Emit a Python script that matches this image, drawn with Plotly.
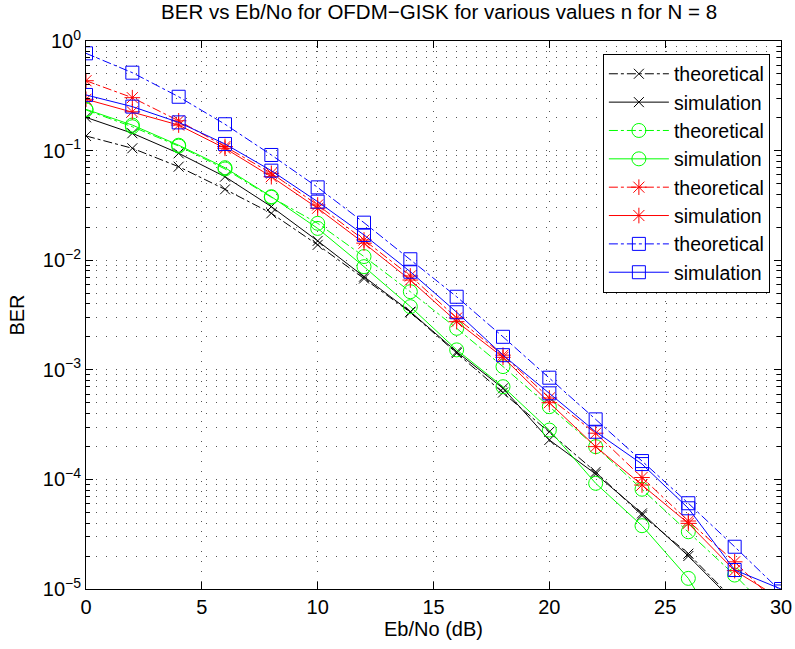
import plotly.graph_objects as go

ebno = [0, 2, 4, 6, 8, 10, 12, 14, 16, 18, 20, 22, 24, 26, 28, 30]

black_theo = [0.136, 0.105, 0.0713, 0.0443, 0.0268, 0.0138, 0.0068, 0.00335, 0.00142, 0.00062,
              0.000272, 0.000117, 4.7e-5, 2.1e-5, 7.8e-6, 3e-6]
black_sim = [0.201, 0.144, 0.0945, 0.0578, 0.0308, 0.0150, 0.00707, 0.00339, 0.00146, 0.000678,
             0.000229, 0.000112, 4.9e-5, 2.0e-5, 7.5e-6, 3e-6]
green_theo = [0.235, 0.165, 0.110, 0.068, 0.0375, 0.0217, 0.0108, 0.00516, 0.00239, 0.00107,
              0.000461, 0.000199, 8.13e-5, 3.33e-5, 1.34e-5, 5e-6]
green_sim = [0.238, 0.171, 0.112, 0.0698, 0.0380, 0.0195, 0.00873, 0.00377, 0.00152, 0.000701,
             0.000282, 9.21e-5, 3.78e-5, 1.25e-5, 2.5e-6, 1e-6]
red_theo = [0.434, 0.304, 0.187, 0.109, 0.0621, 0.0319, 0.0153, 0.00718, 0.00297, 0.00136,
            0.000553, 0.000264, 0.000104, 4.17e-5, 1.77e-5, 6.8e-6]
red_sim = [0.294, 0.226, 0.171, 0.105, 0.0578, 0.0298, 0.0143, 0.00659, 0.00275, 0.00130,
           0.000501, 0.000199, 8.89e-5, 3.97e-5, 1.47e-5, 8.1e-6]
blue_theo = [0.772, 0.514, 0.310, 0.174, 0.0912, 0.0462, 0.0220, 0.0102, 0.00464, 0.00200,
             0.000847, 0.000353, 0.000147, 6.06e-5, 2.43e-5, 0.95e-5]
blue_sim = [0.322, 0.252, 0.181, 0.115, 0.0656, 0.0342, 0.0170, 0.00785, 0.00335, 0.00136,
            0.000610, 0.000272, 0.000138, 5.45e-5, 1.49e-5, 1.0e-5]

x_ticks = [0, 5, 10, 15, 20, 25, 30]
y_ticks = [1e-5, 1e-4, 1e-3, 1e-2, 1e-1, 1]
y_tick_text = ["10<sup>\u22125</sup>", "10<sup>\u22124</sup>", "10<sup>\u22123</sup>",
               "10<sup>\u22122</sup>", "10<sup>\u22121</sup>", "10<sup>0</sup>"]

series = [
    ("theoretical", black_theo, "#000000", "x-thin-open", 10, "dashdot"),
    ("simulation", black_sim, "#000000", "x-thin-open", 10, "solid"),
    ("theoretical", green_theo, "#00FF00", "circle-open", 14, "dashdot"),
    ("simulation", green_sim, "#00FF00", "circle-open", 14, "solid"),
    ("theoretical", red_theo, "#FF0000", "asterisk-open", 13, "dashdot"),
    ("simulation", red_sim, "#FF0000", "asterisk-open", 13, "solid"),
    ("theoretical", blue_theo, "#0000FF", "square-open", 13, "dashdot"),
    ("simulation", blue_sim, "#0000FF", "square-open", 13, "solid"),
]

fig = go.Figure()
for name, ys, color, sym, size, dash in series:
    fig.add_trace(go.Scatter(
        x=ebno, y=ys, name=name, mode="lines+markers",
        line=dict(color=color, width=1, dash=dash),
        marker=dict(symbol=sym, size=size, color=color, line=dict(color=color, width=1)),
        cliponaxis=True,
    ))

font = "Liberation Sans, Arial, Helvetica, sans-serif"
grid_dash = "1px,9px"
grid_color = "#555555"
fig.update_layout(
    width=795, height=649,
    margin=dict(l=86, r=14, t=41, b=60, autoexpand=False),
    plot_bgcolor="white", paper_bgcolor="white",
    font=dict(family=font, size=20, color="black"),
    title=dict(text="BER vs Eb/No for OFDM\u2212GISK for various values n for N = 8",
               x=0.508, xref="paper", xanchor="center", y=0.993, yanchor="top",
               font=dict(size=20.5)),
    showlegend=True,
    legend=dict(x=0.984, y=0.977, xanchor="right", yanchor="top",
                bordercolor="black", borderwidth=1, bgcolor="white",
                font=dict(size=19.5), tracegroupgap=0, itemwidth=60),
)
fig.update_xaxes(
    range=[0, 30], tickvals=x_ticks,
    showline=True, linecolor="black", linewidth=1, mirror="ticks",
    ticks="inside", ticklen=7, tickcolor="black",
    showgrid=True, gridcolor=grid_color, griddash=grid_dash, gridwidth=1,
    zeroline=False,
    title=dict(text="Eb/No (dB)", font=dict(size=20), standoff=4),
)
fig.update_yaxes(
    type="log", range=[-5, 0], tickvals=y_ticks, ticktext=y_tick_text,
    showline=True, linecolor="black", linewidth=1, mirror="ticks",
    ticks="inside", ticklen=7, tickcolor="black",
    showgrid=True, gridcolor=grid_color, griddash=grid_dash, gridwidth=1,
    minor=dict(showgrid=True, gridcolor=grid_color, griddash=grid_dash, gridwidth=1,
               ticks="inside", ticklen=4, tickcolor="black", dtick="D1"),
    zeroline=False,
    title=dict(text="BER", font=dict(size=20), standoff=12),
)

fig.write_html("out.html")
